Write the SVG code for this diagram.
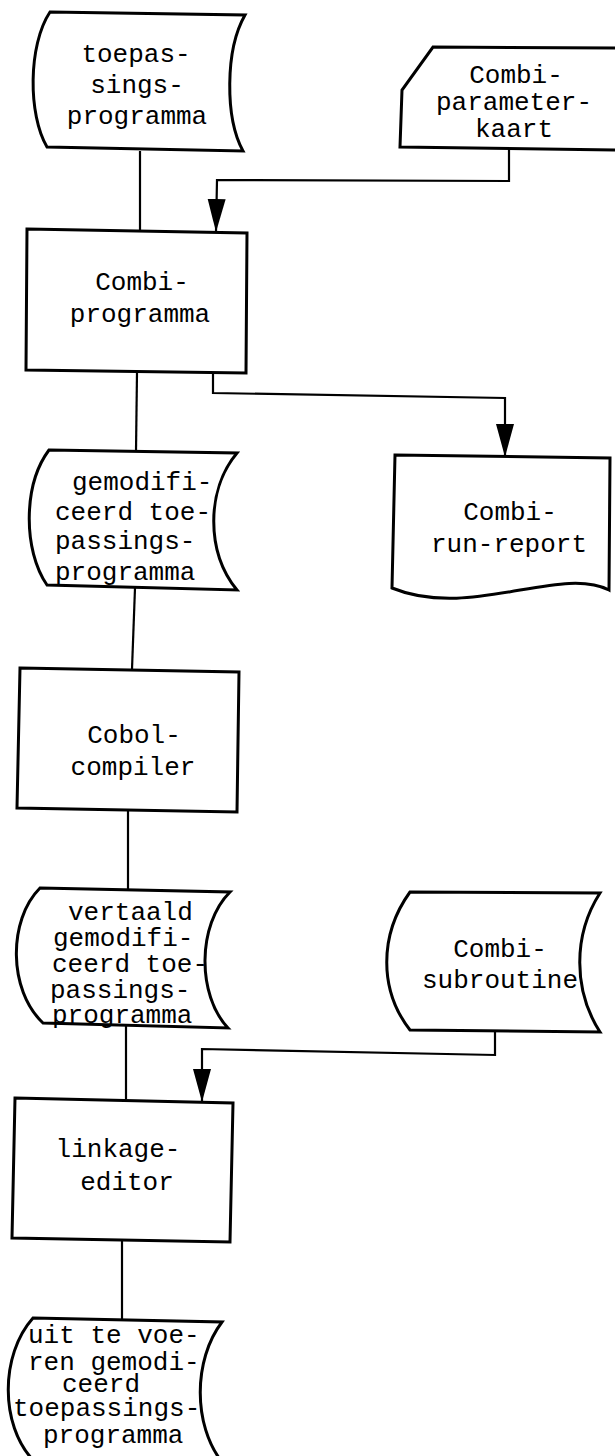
<svg xmlns="http://www.w3.org/2000/svg" width="615" height="1456" viewBox="0 0 615 1456">
<style>
.shape{fill:#fff;stroke:#000;stroke-width:3;stroke-linejoin:miter}
.conn{fill:none;stroke:#000;stroke-width:2.2;stroke-linejoin:miter}
text{font-family:"Liberation Mono","DejaVu Sans Mono",monospace;font-size:26px;fill:#000}
.c{text-anchor:middle}
</style>
<defs>
<marker id="ah" markerUnits="userSpaceOnUse" viewBox="0 0 34 20" markerWidth="34" markerHeight="20" refX="33" refY="10" orient="auto">
<path d="M0,1 L33,10 L0,19 Z" fill="#000"/>
</marker>
</defs>
<rect width="615" height="1456" fill="#fff"/>
<g id="connectors">
<path class="conn" d="M140,151 L140,230"/>
<path class="conn" d="M509,149 L509,181 L217,180 L216,232" marker-end="url(#ah)"/>
<path class="conn" d="M137,372 L136,451"/>
<path class="conn" d="M213,373 L213,393 L505,398 L505,457" marker-end="url(#ah)"/>
<path class="conn" d="M135,588 L132,669"/>
<path class="conn" d="M128,811 L128,889"/>
<path class="conn" d="M126,1026 L126,1099"/>
<path class="conn" d="M495,1031 L495,1055 L202,1049 L202,1102" marker-end="url(#ah)"/>
<path class="conn" d="M122,1240 L122,1319"/>
</g>
<g id="n-toepassingsprogramma">
<path class="shape" d="M50,12 L245,15 C225,50 225,118 243,151 L47,147 C28,115 28,45 50,12 Z"/>
<text class="c" x="136" y="62">toepas-</text>
<text class="c" x="137" y="93">sings-</text>
<text class="c" x="137" y="124">programma</text>
</g>
<g id="n-parameterkaart">
<path class="shape" d="M618,48 L433,47 L402,90 L400,147 L618,150"/>
<text class="c" x="516" y="83">Combi-</text>
<text class="c" x="514" y="110">parameter-</text>
<text class="c" x="514" y="137">kaart</text>
</g>
<g id="n-combiprogramma">
<path class="shape" d="M27,229 L247,233 L246,373 L26,370 Z"/>
<text class="c" x="142" y="290">Combi-</text>
<text class="c" x="140" y="322">programma</text>
</g>
<g id="n-runreport">
<path class="shape" d="M395,455 L610,458 L609,590 C560,565 470,620 392,588 Z"/>
<text class="c" x="510" y="520">Combi-</text>
<text class="c" x="509" y="552">run-report</text>
</g>
<g id="n-gemodificeerd">
<path class="shape" d="M49,450 L237,453 C206,490 206,552 237,590 L47,585 C23,550 23,485 49,450 Z"/>
<text x="72" y="490">gemodifi-</text>
<text x="55" y="520">ceerd toe-</text>
<text x="55" y="549">passings-</text>
<text x="55" y="580">programma</text>
</g>
<g id="n-cobolcompiler">
<path class="shape" d="M20,668 L239,672 L237,812 L17,808 Z"/>
<text class="c" x="134" y="743">Cobol-</text>
<text class="c" x="133" y="775">compiler</text>
</g>
<g id="n-vertaald">
<path class="shape" d="M40,888 L230,892 C197,925 197,995 228,1028 L43,1023 C8,990 8,920 40,888 Z"/>
<text x="68" y="920">vertaald</text>
<text x="53" y="946">gemodifi-</text>
<text x="52" y="972">ceerd toe-</text>
<text x="50" y="998">passings-</text>
<text x="52" y="1023">programma</text>
</g>
<g id="n-subroutine">
<path class="shape" d="M410,892 L600,893 C573,935 573,990 600,1032 L410,1030 C379,990 379,935 410,892 Z"/>
<text class="c" x="500" y="957">Combi-</text>
<text class="c" x="500" y="988">subroutine</text>
</g>
<g id="n-linkage">
<path class="shape" d="M15,1098 L233,1103 L230,1242 L12,1238 Z"/>
<text class="c" x="118" y="1157">linkage-</text>
<text class="c" x="127" y="1190">editor</text>
</g>
<g id="n-uitvoeren">
<path class="shape" d="M33,1318 L222,1322 C193,1360 193,1425 222,1462 L33,1460 C0,1425 0,1355 33,1318 Z"/>
<text x="28" y="1343">uit te voe-</text>
<text x="28" y="1370">ren gemodi-</text>
<text x="62" y="1392">ceerd</text>
<text x="13" y="1416">toepassings-</text>
<text x="43" y="1443">programma</text>
</g>
</svg>
